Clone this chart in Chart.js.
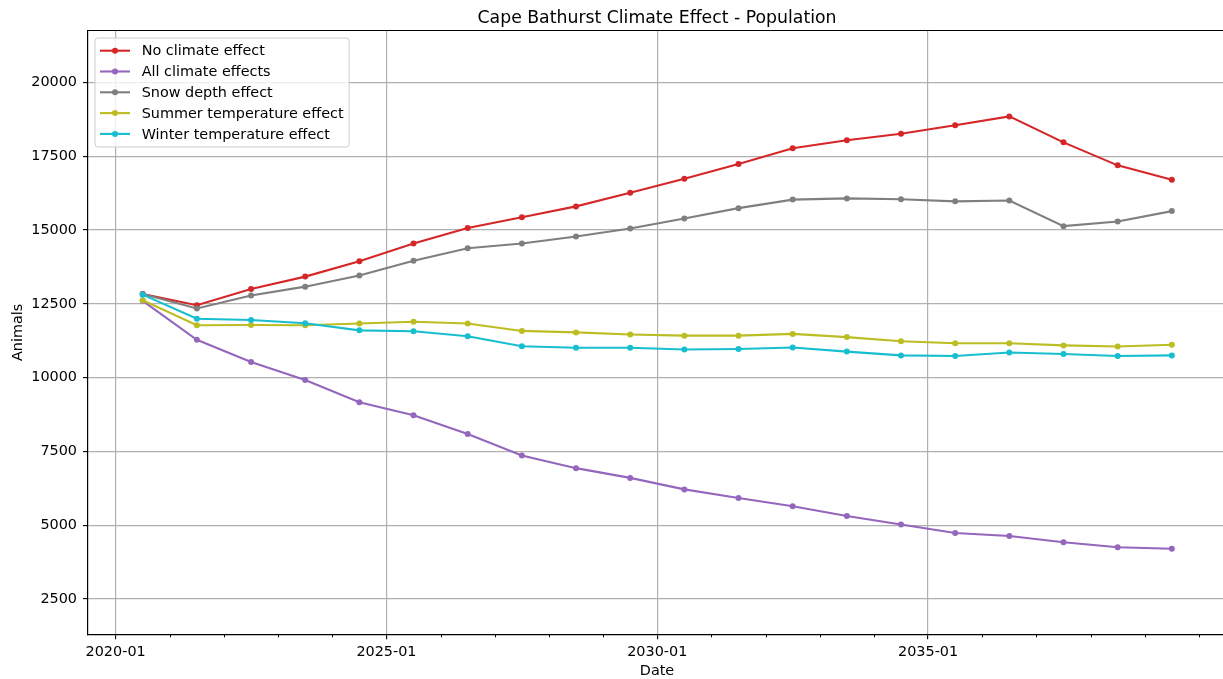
<!DOCTYPE html>
<html>
<head>
<meta charset="utf-8">
<title>Cape Bathurst Climate Effect - Population</title>
<script src="https://cdn.jsdelivr.net/npm/chart.js@4/dist/chart.umd.min.js"></script>
<style>
  html, body { margin: 0; padding: 0; background: #fff; overflow: hidden; }
  #wrap { width: 1223px; height: 679px; overflow: hidden; }
  canvas { display: block; }
</style>
</head>
<body>
<div id="wrap"><canvas id="chart" width="1230" height="679"></canvas></div>
<script>
// Yearly population projections (mid-year), by climate scenario
const dates = ['2020-07','2021-07','2022-07','2023-07','2024-07','2025-07','2026-07','2027-07','2028-07','2029-07',
               '2030-07','2031-07','2032-07','2033-07','2034-07','2035-07','2036-07','2037-07','2038-07','2039-07'];

const noClimate  = [12830,12450,13000,13420,13940,14540,15070,15430,15800,16260,16740,17240,17770,18040,18260,18550,18850,17970,17190,16700];
const allClimate = [12600,11280,10530, 9920, 9160, 8720, 8090, 7360, 6930, 6600, 6210, 5920, 5640, 5310, 5020, 4730, 4630, 4420, 4250, 4200];
const snowDepth  = [12830,12340,12780,13080,13460,13960,14380,14540,14780,15050,15390,15740,16030,16070,16040,15970,16000,15130,15290,15640];
const summerTemp = [12620,11770,11780,11770,11830,11890,11830,11580,11530,11460,11420,11420,11480,11370,11230,11160,11160,11090,11050,11110];
const winterTemp = [12810,11990,11950,11840,11600,11570,11400,11060,11010,11010,10950,10970,11020,10880,10750,10730,10850,10800,10730,10750];

const seriesLabels = ['No climate effect','All climate effects','Snow depth effect','Summer temperature effect','Winter temperature effect'];
const seriesValues = [noClimate, allClimate, snowDepth, summerTemp, winterTemp];
const seriesColors = ['#d62728','#9467bd','#7f7f7f','#bcbd22','#17becf'];

const xTicks = [2020, 2025, 2030, 2035];
const yTicks = [2500, 5000, 7500, 10000, 12500, 15000, 17500, 20000];

const chartTitle = 'Cape Bathurst Climate Effect - Population';

const FONT = 'DejaVu Sans';
const baseFont = { family: FONT, size: 14.4, weight: 'normal' };

// 'YYYY-MM' -> decimal year for the linear date axis
const toYear = s => { const [y, m] = s.split('-').map(Number); return y + (m - 1) / 12; };

const datasets = seriesLabels.map((label, i) => ({
  label,
  data: dates.map((d, j) => ({ x: toYear(d), y: seriesValues[i][j] })),
  borderColor: seriesColors[i],
  backgroundColor: seriesColors[i],
  borderWidth: 2.1,
  pointRadius: 3,
  pointHoverRadius: 3,
  pointBorderWidth: 0,
  tension: 0,
  order: seriesLabels.length - i
}));

// Title centred over the plot, top/right spines, yearly minor ticks and the boxed legend
const frame = {
  id: 'frame',
  afterDraw(chart) {
    const { ctx, chartArea: a, scales: { x } } = chart;
    ctx.save();

    ctx.font = `17.3px "${FONT}"`;
    ctx.fillStyle = '#000';
    ctx.textAlign = 'center';
    ctx.textBaseline = 'alphabetic';
    ctx.fillText(chartTitle, (a.left + a.right) / 2, 22.5);

    ctx.strokeStyle = '#000';
    ctx.lineWidth = 1.2;
    ctx.beginPath();
    ctx.moveTo(a.left, a.top);
    ctx.lineTo(a.right, a.top);
    ctx.lineTo(a.right, a.bottom);
    ctx.stroke();

    ctx.lineWidth = 1;
    ctx.beginPath();
    for (let yr = Math.ceil(x.min); yr <= x.max; yr++) {
      if (xTicks.includes(yr)) continue;
      const px = Math.round(x.getPixelForValue(yr)) + 0.5;
      ctx.moveTo(px, a.bottom);
      ctx.lineTo(px, a.bottom + 3);
    }
    ctx.stroke();

    // legend
    ctx.font = `${baseFont.size}px "${FONT}"`;
    const textW = Math.max(...seriesLabels.map(t => ctx.measureText(t).width));
    const bx = a.left + 7, by = a.top + 7.5;
    const bw = 46.7 + textW + 5.6, bh = 109;
    const r = 3;
    ctx.beginPath();
    ctx.moveTo(bx + r, by);
    ctx.arcTo(bx + bw, by, bx + bw, by + bh, r);
    ctx.arcTo(bx + bw, by + bh, bx, by + bh, r);
    ctx.arcTo(bx, by + bh, bx, by, r);
    ctx.arcTo(bx, by, bx + bw, by, r);
    ctx.closePath();
    ctx.fillStyle = 'rgba(255,255,255,0.8)';
    ctx.fill();
    ctx.strokeStyle = '#cccccc';
    ctx.lineWidth = 1;
    ctx.stroke();

    ctx.textBaseline = 'middle';
    ctx.textAlign = 'left';
    seriesLabels.forEach((label, i) => {
      const cy = by + 12.7 + i * 20.8;
      ctx.strokeStyle = seriesColors[i];
      ctx.lineWidth = 2.1;
      ctx.beginPath();
      ctx.moveTo(bx + 5, cy);
      ctx.lineTo(bx + 35, cy);
      ctx.stroke();
      ctx.fillStyle = seriesColors[i];
      ctx.beginPath();
      ctx.arc(bx + 20, cy, 3, 0, Math.PI * 2);
      ctx.fill();
      ctx.fillStyle = '#000';
      ctx.fillText(label, bx + 46.7, cy + 1);
    });
    ctx.restore();
  }
};

new Chart(document.getElementById('chart'), {
  type: 'line',
  data: { datasets },
  plugins: [frame],
  options: {
    responsive: false,
    animation: false,
    devicePixelRatio: 1,
    layout: { padding: { left: 0, right: 4, top: 30.5, bottom: 0 } },
    plugins: {
      legend: { display: false },
      tooltip: { enabled: false },
      title: { display: false }
    },
    scales: {
      x: {
        type: 'linear',
        min: 2019.49,
        max: 2040.5,
        afterBuildTicks: s => { s.ticks = xTicks.map(v => ({ value: v })); },
        afterFit: s => { s.height = 44.7; },
        ticks: { color: '#000', font: baseFont, padding: 4, maxRotation: 0, autoSkip: false,
                 callback: v => `${v}-01` },
        grid: { color: '#b0b0b0', lineWidth: 1.2, tickLength: 5, tickColor: '#000', tickWidth: 1.1 },
        border: { color: '#000', width: 1.2 },
        title: { display: true, text: 'Date', color: '#000', font: baseFont, padding: { top: 0, bottom: -1 } }
      },
      y: {
        min: 1300,
        max: 21760,
        afterBuildTicks: s => { s.ticks = yTicks.map(v => ({ value: v })); },
        afterFit: s => { s.width = 88; },
        ticks: { color: '#000', font: baseFont, padding: 6, callback: v => String(v) },
        grid: { color: '#b0b0b0', lineWidth: 1.2, tickLength: 5, tickColor: '#000', tickWidth: 1.1 },
        border: { color: '#000', width: 1.2 },
        title: { display: true, text: 'Animals', color: '#000', font: baseFont, padding: { top: 10, bottom: 0 } }
      }
    }
  }
});
</script>
</body>
</html>
